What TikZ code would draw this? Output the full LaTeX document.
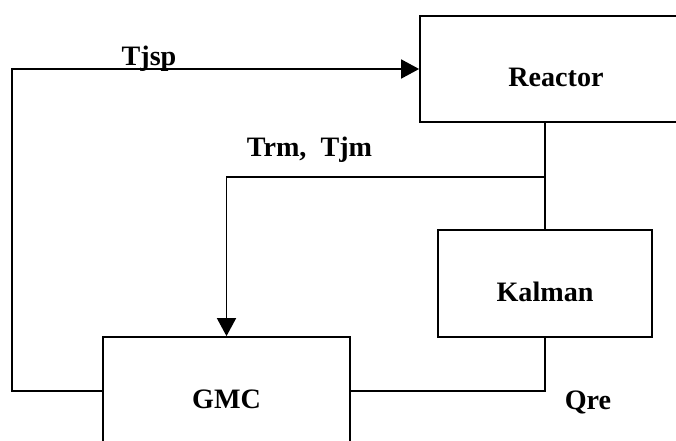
\documentclass[tikz,border=0pt]{standalone}
\usepackage{fontspec}
\setmainfont{Liberation Serif}
\usetikzlibrary{arrows.meta}

\begin{document}
\begin{tikzpicture}[
        blk/.style={draw,line width=1pt,inner sep=0pt,text height=0.7cm,text depth=0pt,
                font=\fontsize{16}{19}\selectfont\bfseries},
        lbl/.style={anchor=base,font=\fontsize{16}{19}\selectfont\bfseries},
        sig/.style={line width=1pt},
        >={Triangle[length=0.36cm,width=0.38cm]}]
        \useasboundingbox (0,0) rectangle (13.52,8.8);

        \node (reactor) at (11.12,7.42) [blk,minimum width=5.44cm,minimum height=2.12cm] {Reactor};
        \node (kalman) at (10.9,3.13) [blk,minimum width=4.28cm,minimum height=2.14cm] {Kalman};
        \node (gmc) at (4.53,0.98) [blk,minimum width=4.94cm,minimum height=2.16cm] {GMC};

        \coordinate (left) at (0.24,0.98);
        \coordinate (split) at (10.9,5.26);

        \draw[sig,->] (gmc.west) -- (left) |- (reactor.west);
        \draw[sig] (kalman.north) -- (kalman.north |- reactor.south);
        \draw[sig,->] (split) -| (gmc.north);
        \draw[sig] (gmc.east) -| (kalman.south);

        \node (tjsp) at (2.98,7.48) [lbl] {Tjsp};
        \node (trm) at (6.19,5.68) [lbl] {Trm,\enspace Tjm};
        \node (qre) at (11.76,0.62) [lbl] {Qre};
\end{tikzpicture}
\end{document}
